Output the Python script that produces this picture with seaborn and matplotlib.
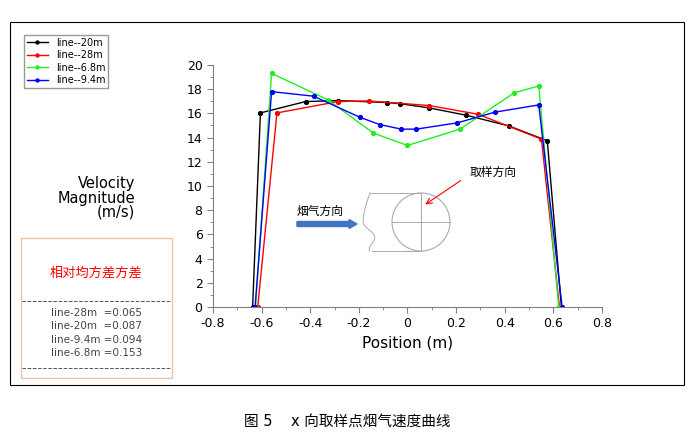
import numpy as np
import pandas as pd
import matplotlib
matplotlib.use("Agg")
import matplotlib.pyplot as plt
import seaborn as sns
from matplotlib.patches import Rectangle, Circle, FancyArrow

plt.rcParams["font.family"] = ["DejaVu Sans", "Noto Sans CJK SC", "Noto Sans CJK JP",
                               "Noto Sans CJK TC", "Noto Sans CJK KR"]

x_20 = [-0.637, -0.605, -0.419, -0.285, -0.085, -0.03, 0.088, 0.241, 0.416, 0.575, 0.633]
y_20 = [0, 16.04, 16.98, 17.06, 16.9, 16.8, 16.46, 15.85, 14.97, 13.74, 0]
x_28 = [-0.616, -0.537, -0.285, -0.159, 0.090, 0.290, 0.551, 0.625]
y_28 = [0, 16.04, 16.98, 17.03, 16.65, 15.93, 13.87, 0]
x_68 = [-0.625, -0.559, -0.329, -0.140, 0.0, 0.216, 0.438, 0.540, 0.622]
y_68 = [0, 19.31, 17.14, 14.37, 13.35, 14.7, 17.69, 18.27, 0]
x_94 = [-0.627, -0.559, -0.386, -0.197, -0.115, -0.025, 0.036, 0.205, 0.359, 0.540, 0.636]
y_94 = [0, 17.8, 17.42, 15.69, 15.08, 14.7, 14.7, 15.22, 16.1, 16.7, 0]
series = [("line--20m", x_20, y_20, "black"), ("line--28m", x_28, y_28, "red"),
          ("line--6.8m", x_68, y_68, "#22ee22"), ("line--9.4m", x_94, y_94, "blue")]
variances = ["line-28m  =0.065", "line-20m  =0.087", "line-9.4m =0.094", "line-6.8m =0.153"]

W, H = 694, 440
fig = plt.figure(figsize=(W/100, H/100), dpi=100)
ax = fig.add_axes([213/W, 1-307/H, (602-213)/W, (307-65)/H])
for name, xs, ys, c in series:
    df = pd.DataFrame({"x": xs, "y": ys})
    sns.lineplot(data=df, x="x", y="y", ax=ax, color=c, lw=1, marker="o", ms=3,
                 mec=c, sort=False, label=name, legend=False)
ax.set_xlim(-0.8, 0.8); ax.set_ylim(0, 20)
ticks = np.arange(-0.8, 0.81, 0.2)
ax.set_xticks(ticks)
ax.set_xticklabels([f"{v:.1f}" if abs(v) > 1e-9 else "0" for v in ticks])
ax.set_yticks(range(0, 21, 2))
ax.set_yticks(np.arange(0, 20.1, 1), minor=True)
ax.set_xticks(np.arange(-0.8, 0.81, 0.1), minor=True)
ax.tick_params(labelsize=9, length=4, color="gray")
ax.tick_params(which="minor", length=2, color="gray")
for s in ["top", "right"]:
    ax.spines[s].set_visible(False)
for s in ["left", "bottom"]:
    ax.spines[s].set_color("gray")
ax.set_xlabel("Position (m)", fontsize=11)
ax.set_ylabel("")
h, l = ax.get_legend_handles_labels()
fig.legend(h, l, loc="upper left", bbox_to_anchor=(19/W, 1-30/H), fontsize=7,
           fancybox=False, edgecolor="gray", handlelength=2.2, labelspacing=0.25,
           borderpad=0.3, frameon=True, markerscale=0.8)

ov = fig.add_axes([0, 0, 1, 1], zorder=5)
ov.set_xlim(0, W); ov.set_ylim(H, 0); ov.axis("off"); ov.patch.set_alpha(0)
ov.add_patch(Rectangle((10, 22), 674, 363, fill=False, ec="black", lw=0.8))
ov.text(135, 198, "Velocity\nMagnitude\n(m/s)", ha="right", va="center", fontsize=10.5,
        linespacing=0.95)
ov.add_patch(Rectangle((21, 238), 151, 140, fill=False, ec="#f5c0a0", lw=1))
ov.text(96, 273, "相对均方差方差", color="red", fontsize=9.5, ha="center", va="center")
ov.plot([22, 171], [301, 301], ls="--", color="#555555", lw=0.7)
ov.plot([22, 171], [368, 368], ls="--", color="#555555", lw=0.7)
for i, t in enumerate(variances):
    ov.text(51, 313 + i*13.3, t, fontsize=7.5, color="#444444", va="center")
# diagram
ov.add_patch(Circle((421, 222), 29, fill=False, ec="#aaaaaa", lw=0.8))
ov.plot([392, 450], [222, 222], color="#aaaaaa", lw=0.7)
ov.plot([421, 421], [193, 251], color="#aaaaaa", lw=0.7)
ov.plot([370, 421], [193, 193], color="#aaaaaa", lw=0.7)
ov.plot([372, 421], [251, 251], color="#aaaaaa", lw=0.7)
t = np.linspace(0, 1, 50)
wx = 370 - 8*np.sin(t*np.pi*0.9) + 10*np.sin(t*np.pi*2)**2*(t > 0.5)
ov.plot(wx + 2*t, 193 + 58*t, color="#aaaaaa", lw=0.7)
ov.add_patch(FancyArrow(297, 224, 52, 0, width=5, head_width=9, head_length=8,
                        color="#4472c4", length_includes_head=False))
ov.text(297, 211, "烟气方向", fontsize=8.5, va="center")
ov.text(470, 172, "取样方向", fontsize=8.5, va="center")
ov.annotate("", xy=(423, 206), xytext=(463, 179),
            arrowprops=dict(arrowstyle="->", color="red", lw=0.8))
ov.text(347, 421, "图 5    x 向取样点烟气速度曲线", fontsize=10.5, ha="center", va="center")
fig.savefig("out.png", dpi=100)
